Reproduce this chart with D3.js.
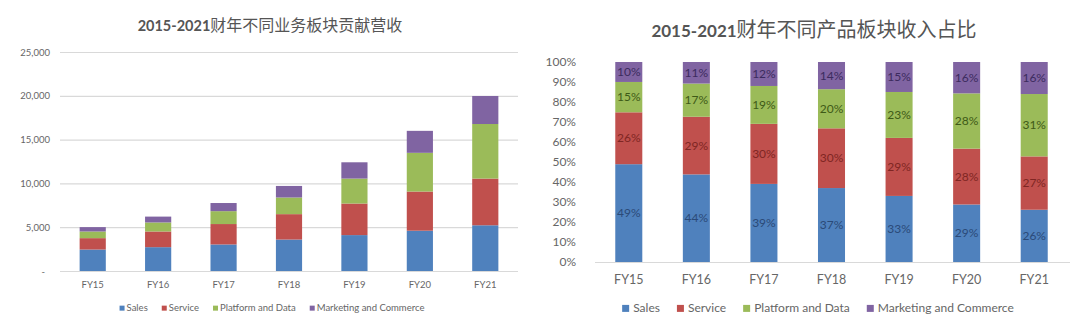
<!DOCTYPE html>
<html>
<head>
<meta charset="utf-8">
<script src="https://cdn.jsdelivr.net/npm/d3@7"></script>
<style>
  html, body { margin: 0; padding: 0; background: #fff; }
  svg { display: block; }
</style>
</head>
<body>
<svg id="chart" width="1080" height="327"></svg>
<script>
// data ($M, subscription revenue by cloud)
const years = ["FY15", "FY16", "FY17", "FY18", "FY19", "FY20", "FY21"];
const sales = [2450, 2720, 3030, 3590, 4100, 4600, 5220];
const service = [1300, 1790, 2330, 2900, 3600, 4470, 5330];
const platform = [760, 1030, 1470, 1900, 2850, 4420, 6230];
const marketing = [500, 670, 930, 1320, 1860, 2510, 3200];
const seriesNames = ["Sales", "Service", "Platform and Data", "Marketing and Commerce"];
const leftTicks = [0, 5000, 10000, 15000, 20000, 25000];
const rightTicks = [0, .1, .2, .3, .4, .5, .6, .7, .8, .9, 1];

const colors = ["#4f81bd", "#c0504d", "#9bbb59", "#8064a2"];
const labelColors = ["#2b4a78", "#7f2623", "#3e5a17", "#3c2b5e"];
const gray = "#666";
const latin = "Lato, 'Liberation Sans', sans-serif";
const cjk = "'Noto Sans CJK SC', sans-serif";

// table for d3.stack
const rows = years.map((y, i) => ({
    year: y, s0: sales[i], s1: service[i], s2: platform[i], s3: marketing[i]
}));
const keys = ["s0", "s1", "s2", "s3"];

const svg = d3.select("#chart");
svg.append("rect").attr("width", 1080).attr("height", 327).attr("fill", "#fff");

const title = (cx, y, latinSize, cjkSize, a, b) => {
    const t = svg.append("text")
        .attr("x", cx).attr("y", y)
        .attr("text-anchor", "middle")
        .attr("fill", "#555");
    t.append("tspan").attr("font-family", latin).attr("font-weight", 700)
        .attr("font-size", latinSize).text(a);
    t.append("tspan").attr("font-family", cjk).attr("font-weight", 400)
        .attr("font-size", cjkSize).text(b);
};

const legend = (cx, y, size, box, pad, gap) => {
    const g = svg.append("g").attr("font-family", latin).attr("font-size", size).attr("fill", gray);
    let x = 0;
    seriesNames.forEach((n, i) => {
        g.append("rect").attr("x", x).attr("y", y - box / 2 - size * 0.3)
            .attr("width", box).attr("height", box).attr("fill", colors[i]);
        const t = g.append("text").attr("x", x + box + pad).attr("y", y).text(n);
        x += box + pad + t.node().getComputedTextLength() + gap;
    });
    x -= gap;
    g.attr("transform", `translate(${cx - x / 2},0)`);
};

// ---------- left: stacked revenue ----------
{
    const x = d3.scaleBand().domain(years).range([60, 518]).paddingInner(0.6).paddingOuter(0.3);
    const y = d3.scaleLinear().domain([0, 25000]).range([271, 52]);
    const stack = d3.stack().keys(keys)(rows);

    title(270, 31, 14.5, 16, "2015-2021", "财年不同业务板块贡献营收");

    svg.append("g").selectAll("line").data(leftTicks).join("line")
        .attr("x1", 60).attr("x2", 518)
        .attr("y1", d => y(d) + 0.5).attr("y2", d => y(d) + 0.5)
        .attr("stroke", "#d9d9d9").attr("stroke-width", 1.2);

    svg.append("g").attr("font-family", latin).attr("font-size", 9.5).attr("fill", gray)
        .attr("text-anchor", "end")
        .selectAll("text").data(leftTicks).join("text")
        .attr("x", d => d === 0 ? 45 : 50)
        .attr("y", d => y(d) + 3.5)
        .text(d => d === 0 ? "-" : d3.format(",")(d));

    svg.append("g").selectAll("g").data(stack).join("g")
        .attr("fill", (d, i) => colors[i])
        .selectAll("rect").data(d => d).join("rect")
        .attr("x", d => x(d.data.year))
        .attr("width", x.bandwidth())
        .attr("y", d => y(d[1]))
        .attr("height", d => y(d[0]) - y(d[1]));

    svg.append("g").attr("font-family", latin).attr("font-size", 9.5).attr("fill", gray)
        .attr("text-anchor", "middle")
        .selectAll("text").data(years).join("text")
        .attr("x", d => x(d) + x.bandwidth() / 2).attr("y", 288)
        .text(d => d);

    legend(272, 311, 9.5, 5, 2, 14);
}

// ---------- right: 100% stacked share ----------
{
    const x = d3.scaleBand().domain(years).range([595, 1068]).paddingInner(0.6).paddingOuter(0.3);
    const y = d3.scaleLinear().domain([0, 1]).range([262, 62]);
    const stack = d3.stack().keys(keys).offset(d3.stackOffsetExpand)(rows);

    title(814, 37, 17, 20, "2015-2021", "财年不同产品板块收入占比");

    svg.append("g").attr("font-family", latin).attr("font-size", 12).attr("fill", gray)
        .attr("text-anchor", "end")
        .selectAll("text").data(rightTicks).join("text")
        .attr("x", 576).attr("y", d => y(d) + 4)
        .text(d3.format(".0%"));

    svg.append("g").selectAll("g").data(stack).join("g")
        .attr("fill", (d, i) => colors[i])
        .selectAll("rect").data(d => d).join("rect")
        .attr("x", d => x(d.data.year))
        .attr("width", x.bandwidth())
        .attr("y", d => y(d[1]))
        .attr("height", d => y(d[0]) - y(d[1]));

    svg.append("line")
        .attr("x1", 595).attr("x2", 1070)
        .attr("y1", y(0) + 0.5).attr("y2", y(0) + 0.5)
        .attr("stroke", "#d9d9d9").attr("stroke-width", 1.2);

    svg.append("g").attr("font-family", latin).attr("font-size", 12)
        .attr("text-anchor", "middle")
        .selectAll("g").data(stack).join("g")
        .attr("fill", (d, i) => labelColors[i])
        .selectAll("text").data(d => d).join("text")
        .attr("x", d => x(d.data.year) + x.bandwidth() / 2)
        .attr("y", d => (y(d[0]) + y(d[1])) / 2 + 4)
        .text(d => d3.format(".0%")(d[1] - d[0]));

    svg.append("g").attr("font-family", latin).attr("font-size", 12.5).attr("fill", gray)
        .attr("text-anchor", "middle")
        .selectAll("text").data(years).join("text")
        .attr("x", d => x(d) + x.bandwidth() / 2).attr("y", 284)
        .text(d => d);

    legend(818, 312, 12, 7, 4, 17);
}
</script>
</body>
</html>
